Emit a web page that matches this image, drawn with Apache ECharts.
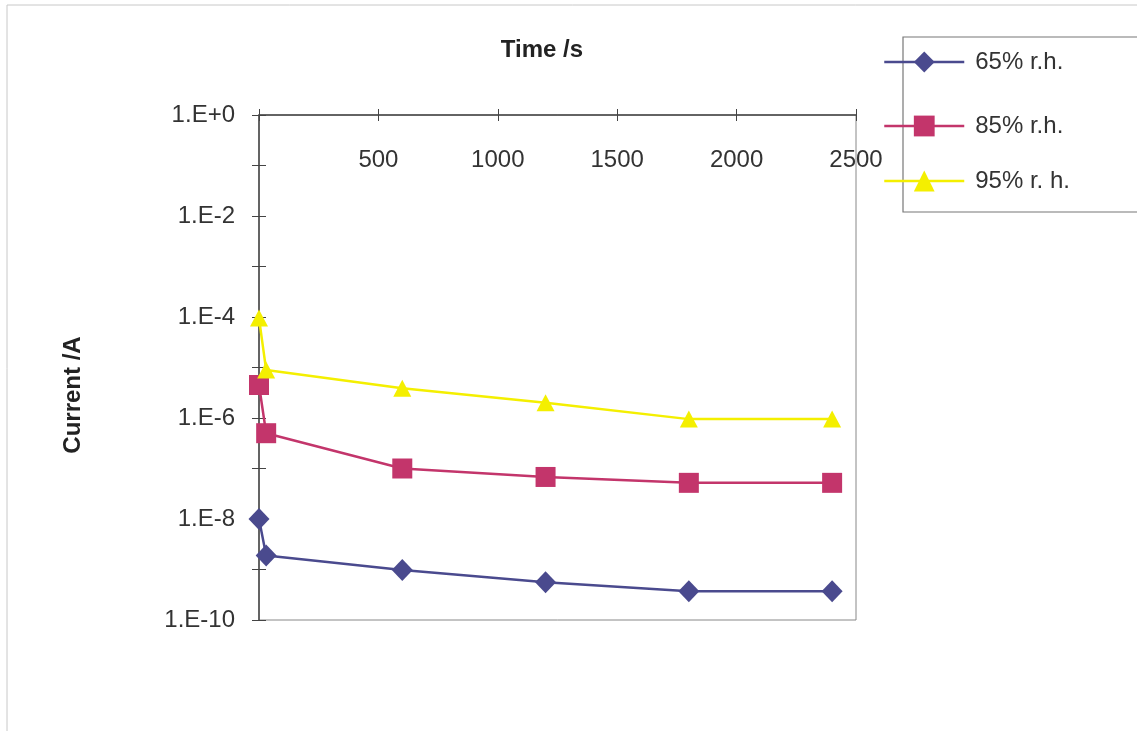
<!DOCTYPE html>
<html>
<head>
<meta charset="utf-8">
<script src="https://cdn.jsdelivr.net/npm/echarts@6/dist/echarts.min.js"></script>
<style>html,body{margin:0;padding:0;background:#fff;}#c{width:1137px;height:731px;}</style>
</head>
<body>
<div id="c"></div>
<script>
const times = [0, 30, 600, 1200, 1800, 2400];
const rh65 = [1.0e-8, 1.9e-9, 9.8e-10, 5.6e-10, 3.7e-10, 3.7e-10];
const rh85 = [4.5e-6, 5.0e-7, 1.0e-7, 6.8e-8, 5.2e-8, 5.2e-8];
const rh95 = [9.5e-5, 8.9e-6, 3.9e-6, 2.0e-6, 9.5e-7, 9.5e-7];
const seriesNames = ['65% r.h.', '85% r.h.', '95% r. h.'];
const xTicks = [0, 500, 1000, 1500, 2000, 2500];

const chart = echarts.init(document.getElementById('c'));
const font = 'Liberation Sans, Arial, sans-serif';
const pair = (arr) => times.map((t, i) => [t, arr[i]]);
const expLabel = (v) => {
  const e = Math.round(Math.log10(v));
  if (e % 2 !== 0) return '';
  return '1.E' + (e >= 0 ? '+' : '-') + Math.abs(e);
};
const colors = ['#4a4a8e', '#c3356b', '#f4ef00'];
const symbols = ['diamond', 'rect', 'triangle'];
const sizes = [[21, 22], [20, 20], [18, 17]];
const legendTops = [50, 114, 169];

chart.setOption({
  animation: false,
  backgroundColor: '#ffffff',
  title: {
    text: 'Time /s', left: 537, top: 33, textAlign: 'center',
    textStyle: { fontFamily: font, fontSize: 24, fontWeight: 'bold', color: '#222' }
  },
  graphic: [
    { type: 'rect', shape: { x: 7, y: 5, width: 1150, height: 760 }, style: { fill: 'none', stroke: '#c8c8c8', lineWidth: 1 } },
    { type: 'rect', shape: { x: 903, y: 37, width: 260, height: 175 }, style: { fill: 'none', stroke: '#777', lineWidth: 1.2 }, z: 1 },
    { type: 'text', x: 73, y: 395, rotation: Math.PI / 2,
      style: { text: 'Current /A', font: 'bold 24px ' + font, fill: '#222', textAlign: 'center', textVerticalAlign: 'middle' } }
  ],
  legend: seriesNames.map((n, i) => ({
    data: [n], left: 883, top: legendTops[i], orient: 'vertical', padding: 0,
    itemWidth: 80, itemHeight: 26, itemGap: 12,
    lineStyle: { width: 2.5 },
    textStyle: { fontFamily: font, fontSize: 24, color: '#333', padding: [0, 0, 0, 6] }
  })),
  grid: {
    left: 259, top: 115, width: 597, height: 505,
    show: true, borderColor: '#888', borderWidth: 1, backgroundColor: 'transparent'
  },
  xAxis: [
    {
      type: 'value', min: 0, max: 2500, interval: 500, position: 'top',
      axisLine: { show: true, onZero: false, lineStyle: { color: '#444', width: 1.5 } },
      axisTick: { show: true, inside: false, length: 6, lineStyle: { color: '#444' } },
      axisLabel: { inside: true, margin: 33, fontFamily: font, fontSize: 24, color: '#333',
        formatter: (v) => (v === xTicks[0] ? '' : String(v)) },
      splitLine: { show: false }
    },
    {
      type: 'value', min: 0, max: 2500, interval: 500, position: 'top',
      axisLine: { show: false, onZero: false },
      axisTick: { show: true, inside: true, length: 6, lineStyle: { color: '#444' } },
      axisLabel: { show: false }, splitLine: { show: false }
    }
  ],
  yAxis: [
    {
      type: 'log', logBase: 10, min: 1e-10, max: 1, interval: 1,
      axisLine: { show: true, onZero: false, lineStyle: { color: '#444', width: 1.5 } },
      axisTick: { show: true, inside: false, length: 7, lineStyle: { color: '#444' } },
      axisLabel: { margin: 24, fontFamily: font, fontSize: 24, color: '#333', formatter: expLabel },
      splitLine: { show: false }
    },
    {
      type: 'log', logBase: 10, min: 1e-10, max: 1, interval: 1, position: 'left',
      axisLine: { show: false, onZero: false },
      axisTick: { show: true, inside: true, length: 7, lineStyle: { color: '#444' } },
      axisLabel: { show: false }, splitLine: { show: false }
    }
  ],
  series: [rh65, rh85, rh95].map((arr, i) => ({
    name: seriesNames[i], type: 'line', data: pair(arr),
    xAxisIndex: 0, yAxisIndex: 0,
    symbol: symbols[i], symbolSize: sizes[i], showAllSymbol: true,
    lineStyle: { color: colors[i], width: 2.5 },
    itemStyle: { color: colors[i], borderWidth: 0 },
    z: 3
  }))
});
</script>
</body>
</html>
